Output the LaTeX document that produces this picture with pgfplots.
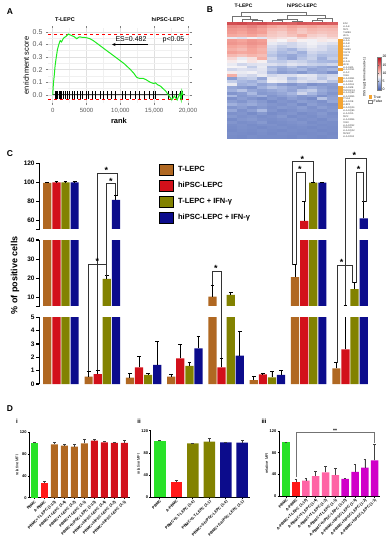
\documentclass[border=0pt]{standalone}
\usepackage{pgfplots}
\usepackage{pgfplotstable}
\pgfplotsset{compat=1.18}
\usepackage{fontspec}
\setmainfont{Liberation Sans}
\usetikzlibrary{arrows.meta}

\definecolor{tlepc}{RGB}{176,104,34}
\definecolor{hipsc}{RGB}{210,16,26}
\definecolor{tifn}{RGB}{130,130,0}
\definecolor{hifn}{RGB}{12,12,140}
\definecolor{pbmcg}{RGB}{40,226,40}
\definecolor{apbmc}{RGB}{255,24,24}
\definecolor{pinkb}{RGB}{255,100,165}
\definecolor{magb}{RGB}{208,0,200}
\definecolor{annor}{RGB}{245,165,50}
\definecolor{esgreen}{RGB}{30,235,30}

\pgfplotsset{/pgf/number format/assume math mode=true}

% ---------- panel C data ----------
\pgfplotstableread{
x v e
0 99.5 0.6
1 0.55 0.37
2 0.47 0.33
3 0.55 0.13
4 10.3 6.1
5 0.3 0.3
6 20.5 6.5
7 1.18 0.42
}\cT
\pgfplotstableread{
x v e
0 100 0.5
1 0.75 0.3
2 1.25 0.8
3 1.93 1.0
4 1.25 0.68
5 0.73 0.05
6 59.3 20.3
7 2.6 3.3
}\cH
\pgfplotstableread{
x v e
0 100 0.4
1 19.6 1.6
2 0.68 0.12
3 1.35 0.25
4 11.2 1.2
5 0.5 0.42
6 99.6 0.5
7 14.2 3.4
}\cTI
\pgfplotstableread{
x v e
0 100 0.4
1 81.4 5.2
2 1.43 1.75
3 2.68 0.92
4 2.13 1.8
5 0.68 0.3
6 99.6 0.5
7 62.1 17.5
}\cHI

% ---------- panel B heatmap ----------
\pgfplotstableread{
gene c0 c1 c2 c3 c4 c5 c6 c7 c8 c9 c10 ann
B2M 16.5 16.8 16.2 16.6 15.8 16.0 15.5 16.2 15.9 16.1 15.7 0
HLA-E 13.5 13.2 13.8 13.0 12.0 11.5 12.3 11.8 12.1 11.7 11.9 0
TAP1 12.8 12.5 13.0 12.2 11.0 10.8 11.5 10.5 11.2 10.9 11.0 0
PSMB8 12.5 12.0 12.7 12.3 10.5 10.0 11.0 10.2 10.8 10.4 10.6 0
MICA 11.8 11.5 12.0 11.2 10.2 9.8 10.5 11.5 10.0 9.6 10.3 0
ICAM1 7.5 7.0 7.8 7.2 9.5 9.0 8.5 9.8 9.2 8.8 9.4 0
HLA-A 12.5 12.0 12.8 12.3 8.5 8.0 9.0 8.2 7.8 8.6 8.3 1
HLA-B 12.8 12.4 13.0 12.6 7.5 7.0 6.5 7.2 7.8 7.4 7.0 1
HLA-C 12.0 11.6 12.4 11.8 6.8 6.0 6.5 7.0 7.5 6.8 6.2 1
PSMB9 11.5 11.0 12.0 11.3 6.5 5.5 4.8 6.2 7.0 6.8 6.0 1
CD274 12.2 11.8 12.0 11.5 6.0 5.0 5.5 4.5 6.5 6.0 5.8 1
CD58 11.0 10.5 11.2 10.8 5.5 4.5 4.0 5.0 6.0 5.2 5.5 1
HFE 9.5 7.5 9.0 11.5 6.5 5.0 3.8 5.5 6.2 4.5 6.0 1
HLA-G 8.5 8.0 8.8 8.2 6.0 5.8 6.5 6.2 5.5 5.0 4.8 1
MICB 7.5 6.5 7.0 7.2 7.0 6.5 7.2 6.8 6.2 6.0 6.5 1
HLA-DMA 8.0 7.8 6.0 7.5 5.0 4.5 5.5 4.2 4.8 4.0 3.5 0
HLA-DPB1 6.5 7.0 6.8 7.2 5.5 4.0 4.5 5.0 3.8 4.2 4.8 1
HLA-F 8.5 7.5 7.8 7.0 4.5 3.5 4.0 3.2 4.2 3.8 2.8 0
CD86 11.5 7.0 6.5 7.5 6.5 7.0 6.8 7.5 7.2 6.0 6.5 0
HLA-DRB1 3.5 5.5 6.0 4.0 7.5 7.2 5.0 6.5 7.0 5.5 6.8 1
HLA-DRA 6.0 5.0 4.5 5.5 7.8 7.5 6.0 7.0 6.5 6.8 5.5 1
HLA-DPA1 7.5 4.5 5.0 3.8 4.5 3.5 3.0 3.8 2.8 3.2 3.5 0
HLA-DMB 4.0 3.5 3.0 4.5 5.5 4.8 4.0 3.5 4.5 3.8 3.2 1
TNFRSF18 4.5 5.5 4.0 3.5 4.0 4.5 3.8 5.5 6.0 4.2 3.5 1
HLA-DQB2 3.0 3.5 5.0 3.2 3.5 4.0 4.8 6.5 5.0 3.8 3.0 1
HLA-DRB5 5.0 3.2 3.8 4.5 3.0 3.5 4.0 3.2 3.8 2.8 3.5 0
CTLA4 2.8 3.5 3.0 2.5 3.2 2.8 3.5 3.0 2.5 5.5 3.8 1
HLA-DOB 3.5 3.0 3.8 3.2 2.5 3.0 2.8 3.5 3.2 2.8 4.0 1
ULBP2 4.5 3.8 4.2 3.5 3.0 2.8 3.2 2.5 3.5 3.0 2.8 1
HLA-DQA1 3.0 3.5 2.8 3.2 2.8 3.2 3.0 3.5 2.8 3.5 3.0 1
HLA-DQB1 4.0 2.8 3.5 5.0 3.0 2.5 2.8 3.2 3.0 2.8 3.2 0
HLA-DOA 2.8 3.0 2.5 3.2 2.5 2.8 3.0 2.5 2.8 3.2 2.6 0
TAP2 3.2 2.8 3.0 2.6 2.8 3.2 2.5 2.8 2.6 3.0 2.8 0
HLA-DRB6 2.5 3.0 3.2 2.8 2.6 2.8 3.0 2.6 2.8 2.5 3.0 0
CD80 3.0 2.6 2.8 3.2 2.5 2.6 2.8 3.0 2.5 2.7 2.6 0
HLA-DPB2 2.6 2.8 2.5 2.7 2.8 2.5 2.6 2.8 2.7 2.5 2.6 0
CD40LG 2.5 2.7 2.6 2.4 2.6 2.7 2.5 2.6 2.4 2.6 2.5 0
HLA-DQA2 2.4 2.6 2.5 2.7 2.5 2.4 2.6 2.5 2.6 2.4 2.5 0
TAPBP 2.6 2.5 2.4 2.6 2.4 2.6 2.5 2.4 2.5 2.6 2.4 0
HLA-DPA2 2.5 2.4 2.6 2.5 2.5 2.5 2.4 2.6 2.5 2.4 2.5 0
}\heat

\pgfplotsset{
  cbar/.style={draw=none,
    error bars/y dir=plus, error bars/y explicit,
    error bars/error bar style={line width=0.9pt, black},
    error bars/error mark options={rotate=90, mark size=1.9pt, line width=0.9pt, black}},
  cseg/.style={scale only axis, width=332.4pt, xmin=-0.525, xmax=7.525,
    ybar=0.9pt, bar width=8.2pt, axis x line=none, axis y line*=left,
    axis line style={line width=1.2pt}, tick style={line width=1.1pt, black},
    tick align=outside, major tick length=3pt,
    yticklabel style={font=\fontsize{6.5}{7}\selectfont\bfseries, inner sep=1.5pt},
    clip=true, clip marker paths=true},
  dbar/.style={ybar, bar shift=0pt, draw=none,
    error bars/y dir=plus, error bars/y explicit,
    error bars/error bar style={line width=0.5pt, black!75},
    error bars/error mark options={rotate=90, mark size=1.3pt, line width=0.5pt, black!75}},
  dax/.style={scale only axis, axis x line*=bottom, axis y line*=left,
    ymin=0, ymax=120, ytick={0,40,80,120}, tick align=outside,
    major tick length=1.5pt, tick style={black, line width=0.6pt},
    axis line style={line width=0.6pt},
    yticklabel style={font=\fontsize{4}{4.5}\selectfont\bfseries, inner sep=1pt},
    xticklabel style={rotate=45, anchor=north east, font=\fontsize{3.8}{4}\selectfont\bfseries, inner sep=0.5pt},
    ylabel={relative MFI}, ylabel style={font=\fontsize{4}{4.5}\selectfont, yshift=-3pt}},
  hmark/.style={scatter, only marks, mark=square*, mark size=1pt, point meta=explicit,
    scatter/use mapped color={draw=mapped color, fill=mapped color}},
  dendro/.style={black!55, line width=0.4pt, mark=none},
  rug/.style={black, line width=0.35pt, ycomb, mark=none},
}

\begin{document}
\begin{tikzpicture}
\useasboundingbox (0,0) rectangle (388pt,-550pt);

% ================= Panel A =================
\begin{axis}[scale only axis, at={(48pt,-103pt)}, anchor=south west,
  width=142pt, height=75pt, xmin=-700, xmax=20300, ymin=-0.065, ymax=0.53,
  axis line style={draw=none}, grid=both,
  major grid style={black!12, line width=0.5pt}, minor grid style={black!6, line width=0.4pt},
  minor x tick num=1, minor y tick num=1, scaled x ticks=false, scaled y ticks=false,
  xtick={0,5000,10000,15000,20000}, xticklabels={0,5000,{10,000},{15,000},{20,000}},
  ytick={0,0.1,0.2,0.3,0.4,0.5}, yticklabels={0.0,0.1,0.2,0.3,0.4,0.5},
  tick style={black!50, line width=0.5pt}, major tick length=2pt, minor tick length=0pt, tick align=outside,
  xticklabel style={font=\fontsize{6}{7}\selectfont, text=black!65},
  yticklabel style={font=\fontsize{7}{8}\selectfont, text=black!65},
  xlabel={rank}, ylabel={enrichment score},
  xlabel style={font=\fontsize{7.5}{8}\selectfont\bfseries, yshift=2pt},
  ylabel style={font=\fontsize{7.5}{8}\selectfont, yshift=-3pt}]
\addplot[black!75, line width=1.1pt, mark=none] coordinates {(0,0) (19500,0)};
\addplot[rug] coordinates {(300,0.033) (500,0.033) (700,0.033) (900,0.033) (1100,0.033) (1300,0.033) (1500,0.033) (1800,0.033) (2100,0.033) (2500,0.033) (2900,0.033) (3200,0.033) (3600,0.033) (4000,0.033) (4400,0.033) (4900,0.033) (5300,0.033) (5800,0.033) (6300,0.033) (7000,0.033) (7500,0.033) (8000,0.033) (8600,0.033) (9300,0.033) (10200,0.033) (10700,0.033) (11400,0.033) (12200,0.033) (12800,0.033) (13500,0.033) (14300,0.033) (14800,0.033) (15200,0.033) (17000,0.033) (17700,0.033) (18300,0.033) (18800,0.033) (19100,0.033)};
\addplot[rug] coordinates {(300,-0.033) (500,-0.033) (700,-0.033) (900,-0.033) (1100,-0.033) (1300,-0.033) (1500,-0.033) (1800,-0.033) (2100,-0.033) (2500,-0.033) (2900,-0.033) (3200,-0.033) (3600,-0.033) (4000,-0.033) (4400,-0.033) (4900,-0.033) (5300,-0.033) (5800,-0.033) (6300,-0.033) (7000,-0.033) (7500,-0.033) (8000,-0.033) (8600,-0.033) (9300,-0.033) (10200,-0.033) (10700,-0.033) (11400,-0.033) (12200,-0.033) (12800,-0.033) (13500,-0.033) (14300,-0.033) (14800,-0.033) (15200,-0.033) (17000,-0.033) (17700,-0.033) (18300,-0.033) (18800,-0.033) (19100,-0.033)};
\addplot[red, dashed, line width=0.9pt, mark=none] coordinates {(-700,0.482) (20300,0.482)};
\addplot[red, dashed, line width=0.9pt, mark=none] coordinates {(-700,-0.04) (20300,-0.04)};
\addplot[esgreen, line width=1pt, mark=none] coordinates {(0,0) (100,0.09) (200,0.14) (350,0.23) (500,0.29) (700,0.36) (900,0.40) (1100,0.43) (1300,0.42) (1600,0.45) (2000,0.465) (2300,0.482) (2600,0.475) (2800,0.47) (3200,0.46) (3550,0.445) (3800,0.455) (4000,0.46) (4400,0.455) (4800,0.455) (5200,0.45) (5500,0.445) (6000,0.43) (6500,0.41) (7000,0.39) (7500,0.37) (8000,0.35) (8500,0.33) (9000,0.31) (9500,0.29) (10000,0.27) (10500,0.25) (11000,0.225) (11500,0.2) (12000,0.17) (12400,0.14) (12800,0.13) (13400,0.13) (13800,0.12) (14400,0.10) (14900,0.09) (15200,0.095) (15500,0.08) (15900,0.07) (16300,0.05) (16700,0.03) (17100,0.0) (17600,-0.04) (18000,-0.01) (18400,-0.04) (18800,0.01) (19000,-0.04) (19100,0.03) (19250,0.0)};
\end{axis}

% ================= Panel B =================
\begin{axis}[scale only axis, at={(227.3pt,-22.3pt)}, anchor=south west,
  width=110pt, height=10.3pt, xmin=-0.5, xmax=10.5, ymin=0, ymax=10, hide axis, clip=false]
\addplot[dendro] coordinates {(2,0) (2,2) (3,2) (3,0)};
\addplot[dendro] coordinates {(1,0) (1,3) (2.5,3) (2.5,2)};
\addplot[dendro] coordinates {(0,0) (0,6) (1.75,6) (1.75,3)};
\addplot[dendro] coordinates {(4,0) (4,2) (5,2) (5,0)};
\addplot[dendro] coordinates {(6,0) (6,1.5) (7,1.5) (7,0)};
\addplot[dendro] coordinates {(4.5,2) (4.5,3.5) (6.5,3.5) (6.5,1.5)};
\addplot[dendro] coordinates {(8,0) (8,2.5) (9,2.5) (9,0)};
\addplot[dendro] coordinates {(8.5,2.5) (8.5,4) (10,4) (10,0)};
\addplot[dendro] coordinates {(5.5,3.5) (5.5,7) (9.25,7) (9.25,4)};
\addplot[dendro] coordinates {(0.875,6) (0.875,10) (7.375,10) (7.375,7)};
\end{axis}

\begin{axis}[scale only axis, at={(227.3pt,-138.3pt)}, anchor=south west,
  width=110pt, height=116pt, xmin=-0.5, xmax=10.5, ymin=-0.5, ymax=39.5,
  y dir=reverse, hide axis,
  colormap={heat}{rgb255(0cm)=(70,95,175) rgb255(5cm)=(170,185,225) rgb255(8cm)=(246,244,246) rgb255(12cm)=(245,165,155) rgb255(20cm)=(185,10,25)},
  point meta min=0, point meta max=20,
  colorbar,
  colorbar style={at={(parent axis.north east)}, anchor=north west, xshift=31.7pt, yshift=-34.4pt,
    scale only axis, width=4pt, height=33pt, ytick={0,5,10,15,20},
    yticklabel style={font=\fontsize{3.5}{4}\selectfont, inner sep=0.8pt},
    major tick length=1pt, tick style={black!60, line width=0.3pt}, axis line style={black!50, line width=0.3pt}}]
\pgfplotsinvokeforeach{0,...,10}{
  \addplot[hmark, mark options={xscale=5.05, yscale=1.48}] table[x expr=#1, y expr=\coordindex, meta=c#1] {\heat};
}
\addplot[black!45, line width=0.9pt, mark=none] coordinates {(3.5,-0.5) (3.5,39.5)};
\end{axis}

\begin{axis}[scale only axis, at={(338.6pt,-138.3pt)}, anchor=south west,
  width=3.4pt, height=116pt, xmin=-0.5, xmax=0.5, ymin=-0.5, ymax=39.5, y dir=reverse,
  axis line style={black!45, line width=0.3pt}, xtick=\empty,
  ytick={0,...,39}, yticklabels from table={\heat}{gene}, yticklabel pos=right,
  major tick length=0pt,
  yticklabel style={font=\fontsize{2.4}{2.5}\selectfont, inner sep=0.5pt, text=black!75},
  colormap={ann}{rgb255=(255,255,255) rgb255=(245,165,50)},
  point meta min=0, point meta max=1]
\addplot[hmark, mark options={xscale=1.75, yscale=1.48}] table[x expr=0, y expr=\coordindex, meta=ann] {\heat};
\end{axis}

% ================= Panel C =================
\begin{axis}[cseg, at={(39.3pt,-229.8pt)}, anchor=south west, height=66.5pt,
  ymin=50, ymax=120, ytick={50,60,80,100,120}, yticklabels={,60,80,100,120}]
\addplot[cbar, fill=tlepc] table[x=x, y=v, y error=e] {\cT};
\addplot[cbar, fill=hipsc] table[x=x, y=v, y error=e] {\cH};
\addplot[cbar, fill=tifn] table[x=x, y=v, y error=e] {\cTI};
\addplot[cbar, fill=hifn] table[x=x, y=v, y error=e] {\cHI};
\end{axis}

\begin{axis}[cseg, at={(39.3pt,-306.7pt)}, anchor=south west, height=66.7pt,
  ymin=5, ymax=40, ytick={5,10,20,30,40}, yticklabels={,10,20,30,40}]
\addplot[cbar, fill=tlepc] table[x=x, y=v, y error=e] {\cT};
\addplot[cbar, fill=hipsc] table[x=x, y=v, y error=e] {\cH};
\addplot[cbar, fill=tifn] table[x=x, y=v, y error=e] {\cTI};
\addplot[cbar, fill=hifn] table[x=x, y=v, y error=e] {\cHI};
\end{axis}

\begin{axis}[cseg, at={(39.3pt,-384pt)}, anchor=south west, height=66.7pt,
  ymin=0, ymax=5, ytick={0,1,2,3,4,5}, axis x line*=bottom,
  xtick={0,...,7}, xticklabels={HLA-ABC,HLA-DR,CD80,CD86,CD40,CD40L,ICAM-1,PD-1},
  xticklabel style={font=\fontsize{7}{8}\selectfont\bfseries, inner sep=2pt}]
\addplot[cbar, fill=tlepc] table[x=x, y=v, y error=e] {\cT};
\addplot[cbar, fill=hipsc] table[x=x, y=v, y error=e] {\cH};
\addplot[cbar, fill=tifn] table[x=x, y=v, y error=e] {\cTI};
\addplot[cbar, fill=hifn] table[x=x, y=v, y error=e] {\cHI};
\end{axis}

% legend of C
\begin{axis}[hide axis, scale only axis, width=1pt, height=1pt, at={(159pt,-164pt)}, anchor=north west,
  xmin=0, xmax=1, ymin=0, ymax=1,
  legend style={at={(0,1)}, anchor=north west, draw=none, fill=none, inner sep=0pt,
    row sep=4.6pt, column sep=4pt, font=\fontsize{7.5}{9}\selectfont\bfseries,
    nodes={inner sep=0.5pt}},
  legend cell align=left,
  legend image code/.code={\fill[#1] (0pt,-5.5pt) rectangle (14pt,5.5pt);}]
\addlegendimage{fill=tlepc}\addlegendentry{T-LEPC}
\addlegendimage{fill=hipsc}\addlegendentry{hiPSC-LEPC}
\addlegendimage{fill=tifn}\addlegendentry{T-LEPC + IFN-γ}
\addlegendimage{fill=hifn}\addlegendentry{hiPSC-LEPC + IFN-γ}
\end{axis}

% ================= Panel D =================
\begin{axis}[dax, at={(29.3pt,-497.7pt)}, anchor=south west, width=100.7pt, height=65.4pt,
  xmin=-0.5, xmax=9.57, xtick={0,...,9},
  xticklabels={PBMC,A-PBMC,PBMC+T-LEPC (1:10),PBMC+T-LEPC (1:4),PBMC+T-LEPC (1:2),PBMC+T-LEPC (1:1),PBMC+hiPSC-LEPC (1:10),PBMC+hiPSC-LEPC (1:4),PBMC+hiPSC-LEPC (1:2),PBMC+hiPSC-LEPC (1:1)}]
\addplot[dbar, bar width=7pt, fill=pbmcg] coordinates {(0,100) +- (0,2)};
\addplot[dbar, bar width=7pt, fill=apbmc] coordinates {(1,26.3) +- (0,4.3)};
\addplot[dbar, bar width=7pt, fill=tlepc] coordinates {(2,98) +- (0,3) (3,95.6) +- (0,3.4) (4,93.7) +- (0,3.7) (5,99.8) +- (0,8)};
\addplot[dbar, bar width=7pt, fill=hipsc] coordinates {(6,104.7) +- (0,2.3) (7,101.7) +- (0,1.8) (8,100.5) +- (0,1.2) (9,100.5) +- (0,4.2)};
\end{axis}

\begin{axis}[dax, at={(150.7pt,-497.3pt)}, anchor=south west, width=99.3pt, height=66.6pt,
  xmin=-0.55, xmax=5.47, xtick={0,...,5},
  xticklabels={PBMC,A-PBMC,PBMC+S.T-LEPC (1:4),PBMC+S.T-LEPC (1:1),PBMC+S.hiPSC-LEPC (1:4),PBMC+S.hiPSC-LEPC (1:1)}]
\addplot[dbar, bar width=11.5pt, fill=pbmcg] coordinates {(0,101) +- (0,1.5)};
\addplot[dbar, bar width=11.5pt, fill=apbmc] coordinates {(1,27) +- (0,3.5)};
\addplot[dbar, bar width=11.5pt, fill=tifn] coordinates {(2,97.3) +- (0,0.6) (3,100.2) +- (0,5.5)};
\addplot[dbar, bar width=11.5pt, fill=hifn] coordinates {(4,99.1) +- (0,0.6) (5,98.4) +- (0,4.3)};
\end{axis}

\begin{axis}[dax, at={(279pt,-496pt)}, anchor=south west, width=101pt, height=65pt,
  xmin=-0.73, xmax=9.54, xtick={0,...,9},
  xticklabels={PBMC,A-PBMC,A-PBMC+T-LEPC (1:10),A-PBMC+T-LEPC (1:4),A-PBMC+T-LEPC (1:2),A-PBMC+T-LEPC (1:1),A-PBMC+hiPSC-LEPC (1:10),A-PBMC+hiPSC-LEPC (1:4),A-PBMC+hiPSC-LEPC (1:2),A-PBMC+hiPSC-LEPC (1:1)}]
\addplot[dbar, bar width=7.5pt, fill=pbmcg] coordinates {(0,99) +- (0,1)};
\addplot[dbar, bar width=7.5pt, fill=apbmc] coordinates {(1,25.3) +- (0,6)};
\addplot[dbar, bar width=7.5pt, fill=pinkb] coordinates {(2,28.4) +- (0,4.6) (3,36.8) +- (0,9) (4,43.4) +- (0,11.6) (5,38.6) +- (0,13.3)};
\addplot[dbar, bar width=7.5pt, fill=magb] coordinates {(6,31.4) +- (0,1.2) (7,44.6) +- (0,13.4) (8,52.5) +- (0,14.5) (9,65.8) +- (0,30.2)};
\end{axis}

% ================= annotations (picture coordinates, y downward) =================
\begin{scope}[x=1pt, y=-1pt]
% hide hairline artefacts where bars meet the broken-axis edges
\fill[white] (40.2,229.1) rectangle (372,230.6);
\fill[white] (40.2,306.0) rectangle (372,307.5);
% panel letters
\node[font=\fontsize{8.5}{9}\selectfont\bfseries] at (10,11.5) {A};
\node[font=\fontsize{8.5}{9}\selectfont\bfseries] at (210,9.5) {B};
\node[font=\fontsize{8.5}{9}\selectfont\bfseries] at (10,154) {C};
\node[font=\fontsize{8.5}{9}\selectfont\bfseries] at (10,409) {D};
\node[font=\fontsize{6}{7}\selectfont\bfseries] at (17,421) {i};
\node[font=\fontsize{6}{7}\selectfont\bfseries] at (139,421) {ii};
\node[font=\fontsize{6}{7}\selectfont\bfseries] at (264,421) {iii};
% panel A texts
\node[font=\fontsize{5.5}{6}\selectfont\bfseries] at (65,20) {T-LEPC};
\node[font=\fontsize{5.5}{6}\selectfont\bfseries] at (168,20) {hiPSC-LEPC};
\node[font=\fontsize{7}{8}\selectfont] at (131,39) {ES=0.482};
\node[font=\fontsize{7}{8}\selectfont] at (173.5,40) {p<0.05};
\draw[-{Stealth[length=3.5pt,width=3pt]}, line width=0.6pt] (148,44.5) -- (112,44.5);
% panel B texts
\node[font=\fontsize{5}{6}\selectfont\bfseries] at (243.5,6) {T-LEPC};
\node[font=\fontsize{5}{6}\selectfont\bfseries] at (302,6) {hiPSC-LEPC};
\node[font=\fontsize{3.2}{3.5}\selectfont, rotate=90] at (364.5,77) {DSS log2(normed reads+1)};
\fill[annor] (368.5,95.3) rectangle (372.3,98.8);
\draw[black!50, line width=0.25pt, fill=white] (368.5,99.8) rectangle (372.3,103.3);
\node[font=\fontsize{3.5}{4}\selectfont, anchor=west, inner sep=0.5pt] at (373,97) {True};
\node[font=\fontsize{3.5}{4}\selectfont, anchor=west, inner sep=0.5pt] at (373,101.5) {False};
% panel C y label
\node[font=\fontsize{9}{10}\selectfont\bfseries, rotate=90] at (15,275) {\% of positive cells};
% panel C significance brackets
\begin{scope}[line width=0.75pt, black!80]
\draw (88.6,371) -- (88.6,264.3) -- (106.8,264.3) -- (106.8,275.5);
\draw (97.7,369.5) -- (97.7,173.3) -- (117.5,173.3) -- (117.5,194.5);
\draw (106.8,275.5) -- (106.8,183.3) -- (115.5,183.3) -- (115.5,194.5);
\draw (212.5,285) -- (212.5,271.7) -- (221.6,271.7) -- (221.6,358);
\draw (292.7,265) -- (292.7,161.7) -- (313.3,161.7) -- (313.3,182);
\draw (296.5,265) -- (296.5,172.3) -- (305,172.3) -- (305,201.5);
\draw (345.5,305) -- (345.5,158.3) -- (366,158.3) -- (366,201.5);
\draw (356.7,282.7) -- (356.7,172.3) -- (363.5,172.3) -- (363.5,201.5);
\draw (337.7,362.7) -- (337.7,265) -- (352.7,265) -- (352.7,282.7);
\end{scope}
\begin{scope}[every node/.style={font=\fontsize{9}{9}\selectfont\bfseries, inner sep=0pt}]
\node at (97.5,261) {*};
\node at (106.5,170) {*};
\node at (111,181) {*};
\node at (216,268.5) {*};
\node at (302.5,159) {*};
\node at (300,169.8) {*};
\node at (354.3,155) {*};
\node at (358.5,169.8) {*};
\node at (341.7,262) {*};
\end{scope}
% panel D iii bracket
\draw[black!55, line width=0.5pt] (296.2,477) -- (296.2,432.3) -- (374.7,432.3) -- (374.7,443);
\node[font=\fontsize{5}{5}\selectfont\bfseries, inner sep=0pt] at (335,430.5) {**};
\end{scope}
\end{tikzpicture}
\end{document}
